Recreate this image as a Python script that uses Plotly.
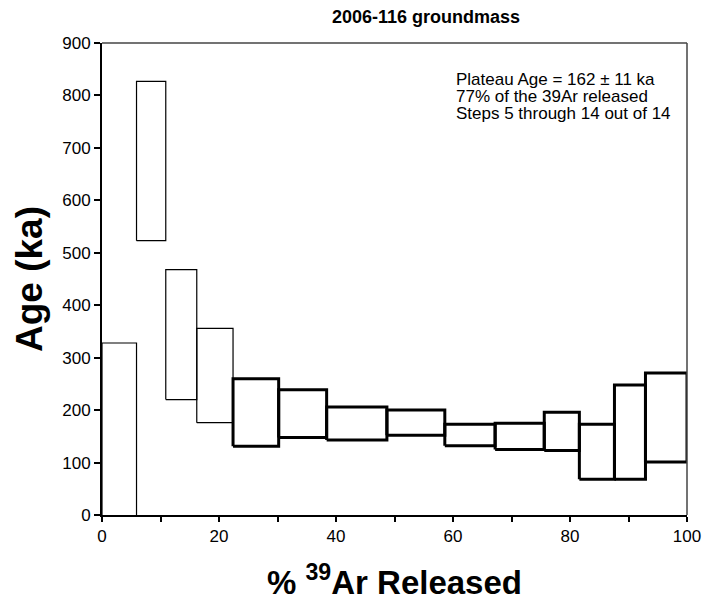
import plotly.graph_objects as go

# cumulative % 39Ar released at step boundaries
cum_left = [0.0, 5.9, 10.9, 16.2, 22.4, 30.2, 38.4, 48.7, 58.6, 67.2, 75.6, 81.6, 87.6, 92.9]
cum_right = [5.9, 10.9, 16.2, 22.4, 30.2, 38.4, 48.7, 58.6, 67.2, 75.6, 81.6, 87.6, 92.9, 100.0]
# age ranges (ka), 2-sigma boxes
age_low = [-120, 523, 220, 176, 131, 148, 143, 152, 132, 125, 123, 68, 68, 101]
age_high = [328, 827, 468, 356, 260, 239, 206, 200, 173, 175, 196, 173, 248, 271]
in_plateau = [False, False, False, False, True, True, True, True, True, True, True, True, True, True]

x_ticks = [0, 20, 40, 60, 80, 100]
x_minor = [10, 30, 50, 70, 90]
y_ticks = [0, 100, 200, 300, 400, 500, 600, 700, 800, 900]

info_lines = ["Plateau Age = 162 ± 11 ka", "77% of the 39Ar released", "Steps 5 through 14 out of 14"]

L, R, T, B = 102, 687, 43, 515
W, H = 705, 607

fig = go.Figure()
for i in range(len(cum_left)):
    x0, x1 = cum_left[i], cum_right[i]
    lo, hi = age_low[i], age_high[i]
    fig.add_trace(go.Scatter(
        x=[x0, x1, x1, x0, x0],
        y=[lo, lo, hi, hi, lo],
        mode="lines",
        line=dict(color="black", width=3 if in_plateau[i] else 1.2),
        hoverinfo="skip",
        showlegend=False,
    ))

fig.update_layout(
    width=W, height=H,
    margin=dict(l=L, r=W - R, t=T, b=H - B, autoexpand=False),
    paper_bgcolor="white", plot_bgcolor="white",
    font=dict(family="Liberation Sans, Arial, sans-serif", color="black", size=17),
    title=dict(text="<b>2006-116 groundmass</b>", x=426 / W, xanchor="center",
               y=1 - 17 / H, yanchor="middle", font=dict(size=18)),
    showlegend=False,
)
fig.update_xaxes(
    range=[0, 100], tickvals=x_ticks, ticks="outside", ticklen=5, tickwidth=1.5,
    tickcolor="black", showline=True, linecolor="black", linewidth=2,
    showgrid=False, zeroline=False, tickfont=dict(size=17), automargin=False,
    minor=dict(tickvals=x_minor, ticks="outside", ticklen=5, tickwidth=1.5, tickcolor="black"),
    title=dict(text="<b>% <sup>39</sup>Ar Released</b>", font=dict(size=33), standoff=25),
)
fig.update_yaxes(
    range=[0, 900], tickvals=y_ticks, ticks="outside", ticklen=6, tickwidth=1.5,
    tickcolor="black", showline=True, linecolor="black", linewidth=2,
    showgrid=False, zeroline=False, tickfont=dict(size=17), automargin=False,
    title=dict(text="<b>Age (ka)</b>", font=dict(size=37), standoff=8),
)
# top and right frame lines
fig.add_shape(type="line", xref="x domain", yref="y domain", x0=0, x1=1, y0=1, y1=1,
              line=dict(color="#444", width=1.5))
fig.add_shape(type="line", xref="x domain", yref="y domain", x0=1, x1=1, y0=0, y1=1,
              line=dict(color="#444", width=1.5))

for k, txt in enumerate(info_lines):
    py = 79 + 17 * k
    fig.add_annotation(
        xref="paper", yref="paper", x=(454 - L) / (R - L), y=1 - (py - T) / (B - T),
        xanchor="left", yanchor="middle", align="left", showarrow=False,
        text=txt, font=dict(size=17),
    )

fig.write_html("out.html", config={"displayModeBar": False},
               post_script="document.body.style.margin='0';")
